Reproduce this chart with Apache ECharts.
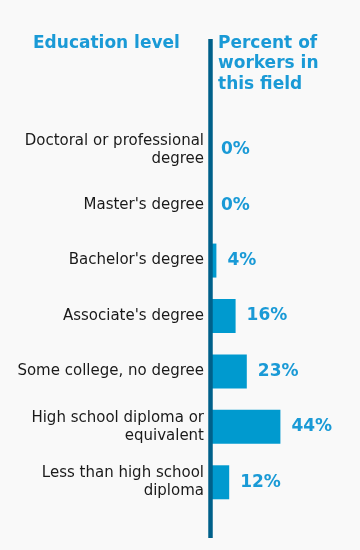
<!DOCTYPE html>
<html>
<head>
<meta charset="utf-8">
<script src="https://cdn.jsdelivr.net/npm/echarts@6/dist/echarts.min.js"></script>
<style>
html,body{margin:0;padding:0;background:#f9f9f9;}
#c{width:360px;height:550px;}
</style>
</head>
<body>
<div id="c"></div>
<script>
const categories = [
  "Doctoral or professional\ndegree",
  "Master's degree",
  "Bachelor's degree",
  "Associate's degree",
  "Some college, no degree",
  "High school diploma or\nequivalent",
  "Less than high school\ndiploma"
];
const values = [0, 0, 4, 16, 23, 44, 12];
const leftTitle = "Education level";
const rightTitle = "Percent of\nworkers in\nthis field";

const FONT = '"DejaVu Sans", Verdana, sans-serif';
const chart = echarts.init(document.getElementById('c'), null, {renderer: 'canvas'});
chart.setOption({
  backgroundColor: '#f9f9f9',
  animation: false,
  title: [
    {text: leftTitle, left: 33, top: 33, padding: 0, textStyle: {fontFamily: FONT, fontSize: 17, fontWeight: 'bold', color: '#1a9ad6', lineHeight: 20.5}},
    {text: rightTitle, left: 218, top: 33, padding: 0, textStyle: {fontFamily: FONT, fontSize: 17, fontWeight: 'bold', color: '#1a9ad6', lineHeight: 20.5}}
  ],
  grid: {left: 210, top: 122, width: 80, height: 388},
  xAxis: {type: 'value', min: 0, max: 50, show: false},
  yAxis: {
    type: 'category', inverse: true, data: categories,
    axisLine: {show: false}, axisTick: {show: false}, splitLine: {show: false},
    axisLabel: {margin: 6, fontFamily: FONT, fontSize: 15, color: '#1a1a1a', lineHeight: 18, align: 'right'}
  },
  series: [{
    type: 'bar', data: values, barWidth: 34,
    itemStyle: {color: '#009acf'},
    label: {show: true, position: 'right', distance: 11, formatter: '{c}%', fontFamily: FONT, fontSize: 17, fontWeight: 'bold', color: '#1a9ad6'}
  }],
  graphic: [{type: 'line', shape: {x1: 210.5, y1: 39, x2: 210.5, y2: 538}, style: {stroke: '#00608a', lineWidth: 4.5}, z: 100}]
});
</script>
</body>
</html>
